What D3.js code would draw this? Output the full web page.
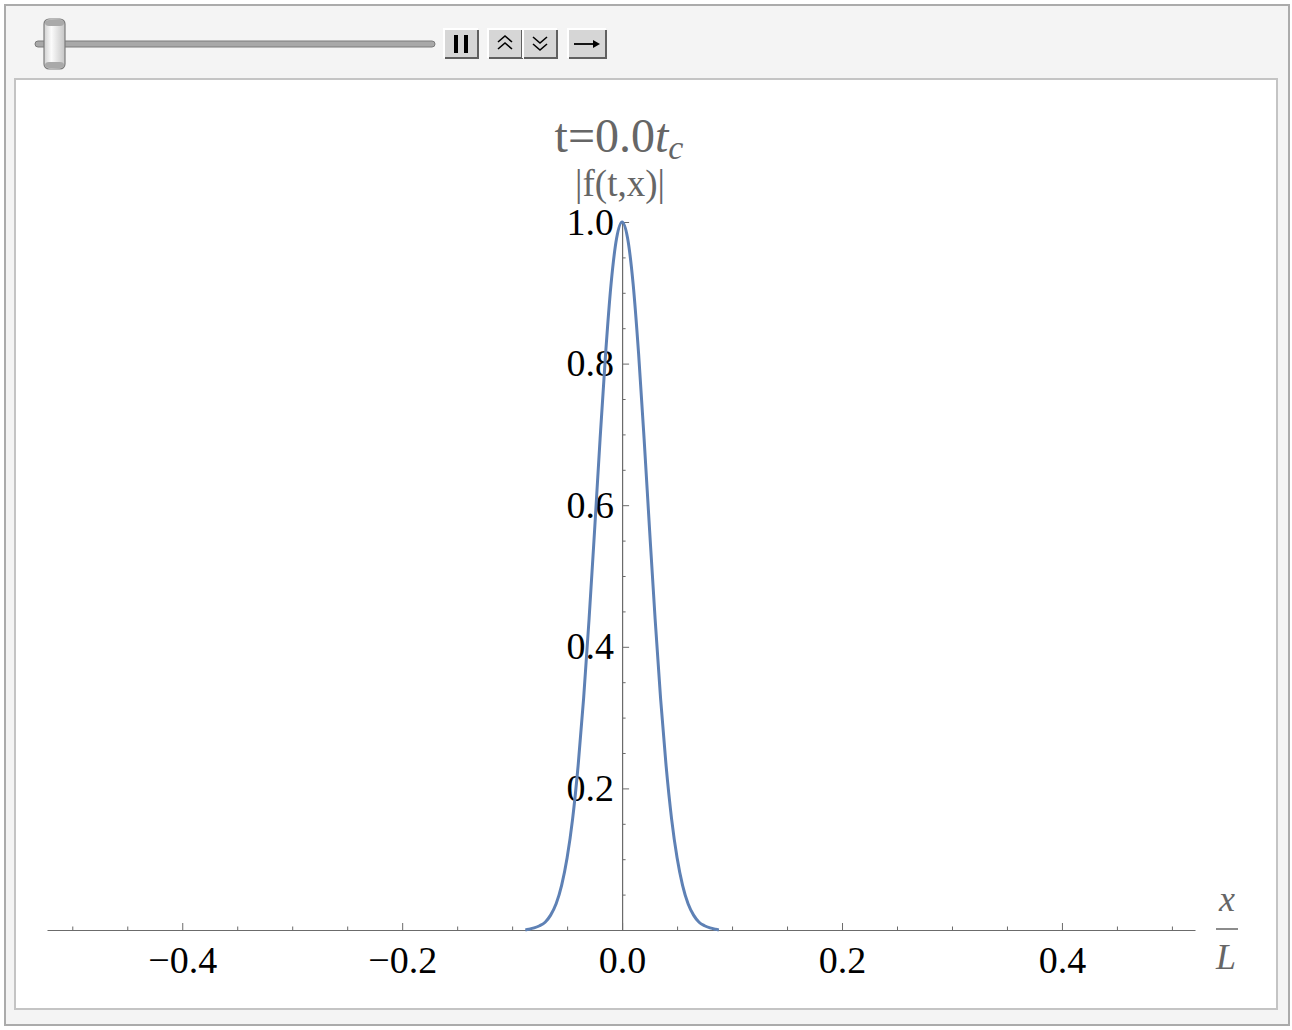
<!DOCTYPE html>
<html>
<head>
<meta charset="utf-8">
<script src="https://cdn.jsdelivr.net/npm/d3@7"></script>
<style>
  body { margin: 0; background: #fff; }
  svg { display: block; }
</style>
</head>
<body>
<div id="plot"></div>
<script>
// curve |f(t,x)| at t = 0
const xVals = [-0.088, -0.085, -0.08, -0.075, -0.07, -0.065, -0.06, -0.055, -0.05, -0.045, -0.04, -0.035, -0.03, -0.025, -0.02, -0.015, -0.01, -0.005,
  0, 0.005, 0.01, 0.015, 0.02, 0.025, 0.03, 0.035, 0.04, 0.045, 0.05, 0.055, 0.06, 0.065, 0.07, 0.075, 0.08, 0.085, 0.088];
const fVals = [0, 0.001, 0.003, 0.006, 0.011, 0.021, 0.037, 0.063, 0.102, 0.157, 0.232, 0.327, 0.440, 0.565, 0.694, 0.814, 0.913, 0.977,
  1, 0.977, 0.913, 0.814, 0.694, 0.565, 0.440, 0.327, 0.232, 0.157, 0.102, 0.063, 0.037, 0.021, 0.011, 0.006, 0.003, 0.001, 0];

const xMajor = [-0.4, -0.2, 0, 0.2, 0.4];
const xMinor = [-0.5, -0.45, -0.35, -0.3, -0.25, -0.15, -0.1, -0.05, 0.05, 0.1, 0.15, 0.25, 0.3, 0.35, 0.45, 0.5];
const yMajor = [0.2, 0.4, 0.6, 0.8, 1.0];
const yMinor = [0.05, 0.1, 0.15, 0.25, 0.3, 0.35, 0.45, 0.5, 0.55, 0.65, 0.7, 0.75, 0.85, 0.9, 0.95];
const xPlotRange = [-0.523, 0.521];
const yPlotRange = [0, 1];

const W = 1292, H = 1030;
const serif = "'Liberation Serif', 'Times New Roman', serif";
const axisCol = "#6b6b6b";

var svg = d3.select("#plot").append("svg")
  .attr("width", W).attr("height", H);

var defs = svg.append("defs");
var g1 = defs.append("linearGradient").attr("id", "thumbGrad")
  .attr("x1", 0).attr("x2", 1).attr("y1", 0).attr("y2", 0);
g1.append("stop").attr("offset", "0%").attr("stop-color", "#d0d0d0");
g1.append("stop").attr("offset", "35%").attr("stop-color", "#fbfbfb");
g1.append("stop").attr("offset", "100%").attr("stop-color", "#c4c4c4");

// outer frame
svg.append("rect").attr("x", 5).attr("y", 5).attr("width", 1284).attr("height", 1020)
  .attr("fill", "#f4f4f4").attr("stroke", "#ababab").attr("stroke-width", 2);

// control bar: slider
svg.append("rect").attr("x", 35).attr("y", 41).attr("width", 400).attr("height", 6).attr("rx", 3)
  .attr("fill", "#a8a8a8").attr("stroke", "#7a7a7a").attr("stroke-width", 1);
svg.append("rect").attr("x", 44).attr("y", 19).attr("width", 21).attr("height", 50).attr("rx", 5)
  .attr("fill", "url(#thumbGrad)").attr("stroke", "#7c7c7c").attr("stroke-width", 1.2);
svg.append("rect").attr("x", 45).attr("y", 20).attr("width", 19).attr("height", 6).attr("rx", 4)
  .attr("fill", "#a9a9a9");
svg.append("rect").attr("x", 45).attr("y", 62).attr("width", 19).attr("height", 6).attr("rx", 4)
  .attr("fill", "#a9a9a9");

// buttons
const buttons = [[444, 34], [488, 34], [523, 34], [568, 38]];
buttons.forEach(function (b) {
  var bx = b[0], bw = b[1], by = 29, bh = 29;
  svg.append("rect").attr("x", bx).attr("y", by).attr("width", bw).attr("height", bh).attr("fill", "#d6d6d6");
  svg.append("path").attr("d", `M${bx},${by + bh} V${by} H${bx + bw}`).attr("fill", "none").attr("stroke", "#fff").attr("stroke-width", 2);
  svg.append("path").attr("d", `M${bx + 1},${by + bh} H${bx + bw} V${by + 1}`).attr("fill", "none").attr("stroke", "#606060").attr("stroke-width", 2);
});
// pause
svg.append("rect").attr("x", 454).attr("y", 35).attr("width", 4).attr("height", 18).attr("fill", "#000");
svg.append("rect").attr("x", 464).attr("y", 35).attr("width", 4).attr("height", 18).attr("fill", "#000");
// faster / slower
svg.append("path").attr("d", "M498,42 l7,-6 l7,6 M498,49 l7,-6 l7,6").attr("fill", "none").attr("stroke", "#000").attr("stroke-width", 1.6);
svg.append("path").attr("d", "M533,37 l7,6 l7,-6 M533,44 l7,6 l7,-6").attr("fill", "none").attr("stroke", "#000").attr("stroke-width", 1.6);
// direction arrow
svg.append("path").attr("d", "M574,44 H598").attr("stroke", "#000").attr("stroke-width", 1.8);
svg.append("path").attr("d", "M600,44 l-7,-4 v8 z").attr("fill", "#000");

// inner panel
svg.append("rect").attr("x", 15).attr("y", 79).attr("width", 1262).attr("height", 930)
  .attr("fill", "#fff").attr("stroke", "#c4c4c4").attr("stroke-width", 2);

// scales
var x = d3.scaleLinear().domain(xPlotRange).range([47, 1195]);
var y = d3.scaleLinear().domain(yPlotRange).range([930, 222]);

var plot = svg.append("g");

// minor ticks
plot.append("g").attr("transform", "translate(0,930)")
  .call(d3.axisBottom(x).tickValues(xMinor).tickSizeInner(-3.5).tickSizeOuter(0).tickFormat(""))
  .call(g => g.select(".domain").remove())
  .call(g => g.selectAll("line").attr("stroke", axisCol));
plot.append("g").attr("transform", "translate(" + x(0) + ",0)")
  .call(d3.axisLeft(y).tickValues(yMinor).tickSizeInner(-3.5).tickSizeOuter(0).tickFormat(""))
  .call(g => g.select(".domain").remove())
  .call(g => g.selectAll("line").attr("stroke", axisCol));

// x axis
plot.append("g").attr("transform", "translate(0,930)")
  .call(d3.axisBottom(x).tickValues(xMajor).tickSizeInner(-7).tickSizeOuter(0).tickPadding(16)
    .tickFormat(d => d3.format(".1f")(d).replace("-", "\u2212")))
  .call(g => g.select(".domain").attr("stroke", axisCol).attr("stroke-width", 1.2))
  .call(g => g.selectAll("line").attr("stroke", axisCol))
  .call(g => g.selectAll("text").attr("font-family", serif).attr("font-size", 38).attr("fill", "#000"));

// y axis
plot.append("g").attr("transform", "translate(" + x(0) + ",0)")
  .call(d3.axisLeft(y).tickValues(yMajor).tickSizeInner(-7).tickSizeOuter(0).tickPadding(8)
    .tickFormat(d3.format(".1f")))
  .call(g => g.select(".domain").attr("stroke", axisCol).attr("stroke-width", 1.2))
  .call(g => g.selectAll("line").attr("stroke", axisCol))
  .call(g => g.selectAll("text").attr("font-family", serif).attr("font-size", 38).attr("fill", "#000"));

// curve
var pts = xVals.map((v, i) => [v, fVals[i]]);
plot.append("path").datum(pts)
  .attr("fill", "none").attr("stroke", "#5e81b5").attr("stroke-width", 3)
  .attr("stroke-linejoin", "round")
  .attr("d", d3.line().x(d => x(d[0])).y(d => y(d[1])).curve(d3.curveMonotoneX));

// axis labels
svg.append("text").attr("x", 620).attr("y", 196).attr("text-anchor", "middle")
  .attr("font-family", serif).attr("font-size", 37).attr("fill", "#666").text("|f(t,x)|");

var lx = 1227;
svg.append("text").attr("x", lx).attr("y", 911).attr("text-anchor", "middle")
  .attr("font-family", serif).attr("font-style", "italic").attr("font-size", 36).attr("fill", "#666").text("x");
svg.append("line").attr("x1", lx - 11).attr("x2", lx + 11).attr("y1", 929).attr("y2", 929)
  .attr("stroke", "#666").attr("stroke-width", 1.5);
svg.append("text").attr("x", lx - 1).attr("y", 969).attr("text-anchor", "middle")
  .attr("font-family", serif).attr("font-style", "italic").attr("font-size", 36).attr("fill", "#666").text("L");

// title
var title = svg.append("text").attr("x", 619).attr("y", 152).attr("text-anchor", "middle")
  .attr("font-family", serif).attr("font-size", 48).attr("fill", "#666");
title.append("tspan").text("t=0.0");
title.append("tspan").attr("font-style", "italic").text("t");
title.append("tspan").attr("font-style", "italic").attr("font-size", 34).attr("dy", 7).text("c");
</script>
</body>
</html>
